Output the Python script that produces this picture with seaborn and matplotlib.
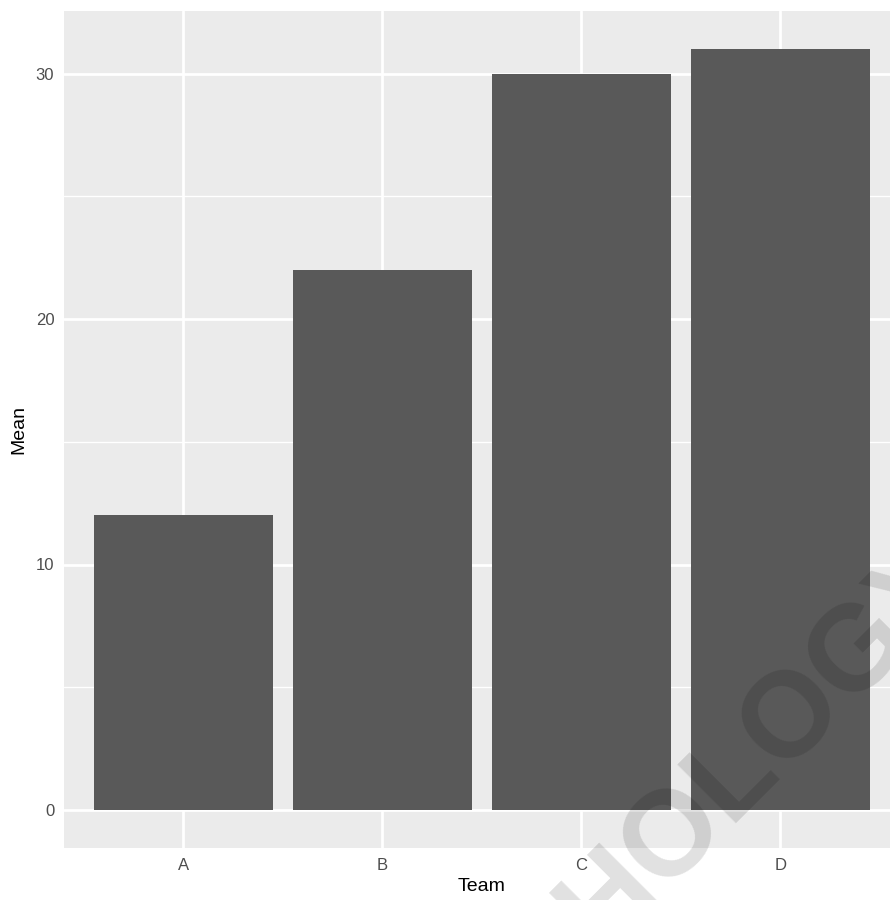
import matplotlib
matplotlib.use("Agg")
import matplotlib.pyplot as plt
import pandas as pd
import seaborn as sns
from matplotlib.ticker import MultipleLocator

teams = ["A", "B", "C", "D"]
means = [12, 22, 30, 31]

df = pd.DataFrame({"Team": teams, "Mean": means})

sns.set_theme(style="darkgrid", rc={
    "axes.facecolor": "#EBEBEB",
    "grid.color": "white",
    "axes.edgecolor": "#EBEBEB",
})
plt.rcParams["font.family"] = ["Liberation Sans", "DejaVu Sans"]

W, H = 890, 900
fig = plt.figure(figsize=(W / 100, H / 100), dpi=100)
# panel runs slightly past the right edge, as in the reference
ax = fig.add_axes([64 / W, (H - 848) / H, 835.8 / W, 837 / H])

sns.barplot(data=df, x="Team", y="Mean", color="#595959", saturation=1,
            width=0.9, linewidth=0, ax=ax)

ax.set_xlim(-0.6, 3.6)
ax.set_ylim(-1.55, 32.55)
ax.yaxis.set_major_locator(MultipleLocator(10))
ax.yaxis.set_minor_locator(MultipleLocator(5))
ax.grid(which="major", color="white", linewidth=2.0)
ax.grid(which="minor", axis="y", color="white", linewidth=1.0)
ax.set_axisbelow(True)
for s in ax.spines.values():
    s.set_visible(False)

ax.tick_params(axis="both", which="major", length=4, width=1.2, color="#333333",
               labelcolor="#4D4D4D", labelsize=12, pad=3)
ax.tick_params(axis="both", which="minor", length=0)
ax.set_xlabel("Team", fontsize=14, color="black", labelpad=4)
ax.set_ylabel("Mean", fontsize=14, color="black", labelpad=6)

# faint watermark
fig.text(670 / W, 1 - 882 / H, "PSYCHOLOGY", fontsize=87, fontweight="bold",
         color="black", alpha=0.12, rotation=45, rotation_mode="anchor",
         ha="center", va="baseline")

fig.savefig("out.png", dpi=100)
